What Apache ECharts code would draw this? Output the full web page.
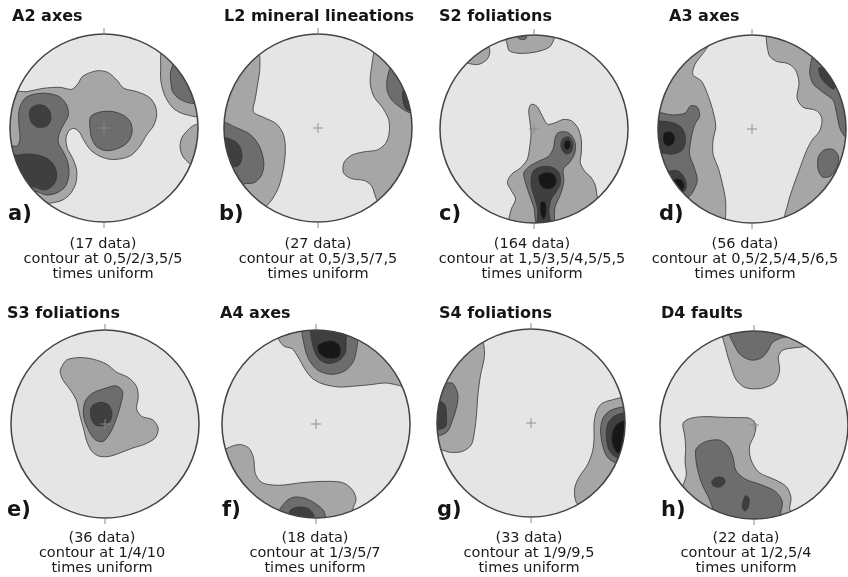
<!DOCTYPE html>
<html><head><meta charset="utf-8">
<script src="https://cdn.jsdelivr.net/npm/echarts@6/dist/echarts.min.js"></script>
<style>html,body{margin:0;padding:0;background:#fff}#c{width:848px;height:577px}</style>
</head><body><div id="c"></div>
<script>
// ---------- text data ----------
const TITLES = ['A2 axes','L2 mineral lineations','S2 foliations','A3 axes','S3 foliations','A4 axes','S4 foliations','D4 faults'];
const LETTERS = ['a)','b)','c)','d)','e)','f)','g)','h)'];
const COUNTS = [17,27,164,56,36,18,33,22];
const CONTOUR_LEVELS = ['0,5/2/3,5/5','0,5/3,5/7,5','1,5/3,5/4,5/5,5','0,5/2,5/4,5/6,5','1/4/10','1/3/5/7','1/9/9,5','1/2,5/4'];

// ---------- contour polygons (projection coords, unit circle, y up) ----------
// a) A2 axes
const a_L1_left = [[-0.97,0.38],[-0.823,0.387],[-0.645,0.422],[-0.468,0.433],[-0.344,0.411],[-0.273,0.475],[-0.238,0.539],[-0.167,0.582],[-0.060,0.610],[0.046,0.589],[0.135,0.511],[0.213,0.422],[0.348,0.387],[0.482,0.326],[0.546,0.234],[0.560,0.128],[0.525,0.021],[0.454,-0.074],[0.383,-0.191],[0.294,-0.287],[0.188,-0.326],[0.064,-0.333],[-0.050,-0.298],[-0.149,-0.227],[-0.220,-0.121],[-0.262,-0.043],[-0.319,-0.004],[-0.372,-0.028],[-0.404,-0.110],[-0.390,-0.216],[-0.333,-0.323],[-0.291,-0.447],[-0.298,-0.582],[-0.355,-0.695],[-0.440,-0.766],[-0.539,-0.794],[-0.66,-0.80],[-0.78,-0.70],[-0.93,-0.45],[-1.05,-0.1],[-1.04,0.2]];
const a_L1_tr = [[0.62,0.83],[0.603,0.635],[0.606,0.493],[0.649,0.340],[0.738,0.209],[0.862,0.145],[1.06,0.13],[1.06,0.4],[0.92,0.6],[0.78,0.75]];
const a_L1_r = [[1.07,0.05],[0.96,0.03],[0.901,-0.014],[0.830,-0.099],[0.809,-0.199],[0.837,-0.298],[0.908,-0.376],[0.97,-0.41],[1.07,-0.15]];
const a_L2_left = [[-0.894,0.227],[-0.840,0.316],[-0.752,0.358],[-0.610,0.369],[-0.475,0.333],[-0.397,0.245],[-0.379,0.138],[-0.426,0.043],[-0.475,-0.057],[-0.486,-0.156],[-0.440,-0.241],[-0.390,-0.348],[-0.372,-0.482],[-0.408,-0.617],[-0.496,-0.688],[-0.610,-0.713],[-0.723,-0.674],[-0.80,-0.66],[-0.90,-0.56],[-1.04,-0.25],[-1.0,-0.19],[-0.922,-0.191],[-0.894,-0.110],[-0.904,0.014],[-0.908,0.138]];
const a_L2_c = [[-0.142,0.121],[-0.043,0.170],[0.099,0.174],[0.213,0.131],[0.284,0.057],[0.298,-0.050],[0.248,-0.156],[0.142,-0.220],[0.021,-0.241],[-0.078,-0.199],[-0.131,-0.110],[-0.149,-0.004]];
const a_L2_tr = [[0.75,0.70],[0.709,0.60],[0.709,0.511],[0.730,0.387],[0.809,0.305],[0.933,0.262],[1.03,0.28],[0.95,0.5],[0.8,0.72]];
const a_L3_ul = [[-0.794,0.138],[-0.777,0.209],[-0.709,0.245],[-0.628,0.234],[-0.574,0.174],[-0.567,0.085],[-0.610,0.021],[-0.699,0.007],[-0.766,0.050]];
const a_L3_ll = [[-1.04,-0.27],[-0.93,-0.29],[-0.840,-0.277],[-0.709,-0.287],[-0.592,-0.333],[-0.521,-0.418],[-0.504,-0.518],[-0.539,-0.606],[-0.628,-0.660],[-0.734,-0.631],[-0.82,-0.6],[-0.9,-0.55],[-1.03,-0.35]];

// b) L2 mineral lineations
const b_L1_left = [[-0.64,0.82],[-0.618,0.642],[-0.642,0.469],[-0.667,0.313],[-0.688,0.174],[-0.583,0.115],[-0.444,0.045],[-0.368,-0.069],[-0.347,-0.226],[-0.368,-0.434],[-0.417,-0.625],[-0.486,-0.757],[-0.549,-0.833],[-0.58,-0.88],[-0.85,-0.6],[-1.04,-0.2],[-1.04,0.25],[-0.85,0.6]];
const b_L2_left = [[-1.04,0.06],[-0.861,0.0],[-0.722,-0.069],[-0.625,-0.191],[-0.576,-0.365],[-0.601,-0.503],[-0.681,-0.583],[-0.785,-0.594],[-0.84,-0.64],[-1.02,-0.3]];
const b_L3_left = [[-1.04,-0.1],[-0.889,-0.139],[-0.826,-0.208],[-0.809,-0.313],[-0.844,-0.399],[-0.931,-0.417],[-1.0,-0.45],[-1.05,-0.25]];
const b_L1_right = [[0.62,0.83],[0.569,0.642],[0.556,0.469],[0.597,0.330],[0.684,0.219],[0.753,0.087],[0.757,-0.052],[0.719,-0.163],[0.632,-0.233],[0.493,-0.253],[0.361,-0.288],[0.278,-0.365],[0.271,-0.476],[0.354,-0.538],[0.493,-0.559],[0.569,-0.615],[0.618,-0.747],[0.66,-0.81],[0.8,-0.68],[1.05,-0.25],[1.05,0.25],[0.88,0.6]];
const b_L2_right = [[0.78,0.66],[0.736,0.521],[0.736,0.399],[0.788,0.295],[0.892,0.208],[0.99,0.16],[1.06,0.2],[0.97,0.5],[0.85,0.66]];
const b_L3_right = [[0.95,0.48],[0.9,0.38],[0.905,0.29],[0.94,0.2],[1.06,0.18],[1.04,0.42]];

// c) S2 foliations
const c_L1_top = [[-0.3,1.02],[-0.285,0.9],[-0.26,0.83],[-0.143,0.804],[0.031,0.822],[0.164,0.871],[0.21,0.95],[0.23,1.04],[0,1.08]];
const c_L1_tl = [[-0.74,0.72],[-0.66,0.69],[-0.58,0.69],[-0.5,0.74],[-0.47,0.82],[-0.5,0.91],[-0.63,0.84]];
const c_L1_main = [[-0.28,-1.0],[-0.266,-0.948],[-0.241,-0.850],[-0.196,-0.745],[-0.241,-0.657],[-0.283,-0.570],[-0.241,-0.483],[-0.143,-0.413],[-0.073,-0.325],[-0.045,-0.185],[-0.031,-0.045],[-0.045,0.094],[-0.056,0.199],[-0.031,0.262],[0.031,0.241],[0.084,0.147],[0.143,0.052],[0.224,0.066],[0.311,0.101],[0.399,0.087],[0.469,0.007],[0.503,-0.115],[0.503,-0.255],[0.493,-0.360],[0.538,-0.448],[0.608,-0.517],[0.654,-0.605],[0.678,-0.738],[0.72,-0.78],[0.4,-0.98],[0.05,-1.06]];
const c_L2_top = [[-0.17,0.97],[-0.12,0.95],[-0.08,0.97],[-0.1,1.03],[-0.17,1.03]];
const c_L2_main = [[0.259,-0.038],[0.364,-0.038],[0.434,-0.133],[0.434,-0.255],[0.381,-0.353],[0.311,-0.430],[0.318,-0.552],[0.283,-0.692],[0.224,-0.832],[0.2,-1.03],[0.05,-1.05],[0.014,-0.97],[0.003,-0.850],[-0.045,-0.710],[-0.091,-0.570],[-0.108,-0.465],[-0.045,-0.395],[0.049,-0.343],[0.154,-0.290],[0.206,-0.203],[0.224,-0.098]];
const c_L3_up = [[0.311,-0.098],[0.374,-0.087],[0.413,-0.157],[0.399,-0.238],[0.346,-0.266],[0.297,-0.220],[0.287,-0.150]];
const c_L3_low = [[-0.01,-0.45],[0.09,-0.40],[0.2,-0.41],[0.27,-0.47],[0.28,-0.58],[0.23,-0.68],[0.18,-0.75],[0.16,-0.87],[0.17,-1.05],[0.04,-1.05],[0.04,-0.87],[0.01,-0.74],[-0.03,-0.6]];
const c_L4_up = [[0.329,-0.133],[0.374,-0.126],[0.388,-0.185],[0.353,-0.220],[0.322,-0.196]];
const c_L4_low = [[0.05,-0.5],[0.13,-0.46],[0.21,-0.48],[0.24,-0.55],[0.21,-0.62],[0.13,-0.64],[0.07,-0.6]];
const c_L4_tail = [[0.07,-0.78],[0.12,-0.78],[0.13,-0.9],[0.1,-0.96],[0.07,-0.9]];

// d) A3 axes
const d_L1_left = [[-0.4,0.98],[-0.511,0.818],[-0.607,0.686],[-0.629,0.579],[-0.536,0.507],[-0.464,0.346],[-0.414,0.186],[-0.386,0.025],[-0.414,-0.118],[-0.414,-0.268],[-0.357,-0.421],[-0.307,-0.618],[-0.279,-0.796],[-0.31,-1.0],[-0.65,-0.82],[-0.95,-0.4],[-1.05,0.05],[-0.92,0.5],[-0.68,0.8]];
const d_L1_right = [[0.17,1.04],[0.179,0.793],[0.257,0.721],[0.382,0.696],[0.464,0.625],[0.5,0.489],[0.479,0.329],[0.543,0.232],[0.686,0.196],[0.743,0.114],[0.721,-0.018],[0.639,-0.118],[0.579,-0.232],[0.514,-0.404],[0.443,-0.6],[0.386,-0.779],[0.35,-1.0],[0.75,-0.75],[1.0,-0.35],[1.06,0.0],[0.98,0.45],[0.72,0.78],[0.45,0.96]];
const d_L2_left = [[-1.04,0.17],[-0.850,0.150],[-0.714,0.168],[-0.654,0.246],[-0.582,0.232],[-0.557,0.139],[-0.611,0.043],[-0.650,-0.118],[-0.664,-0.268],[-0.614,-0.411],[-0.582,-0.546],[-0.629,-0.671],[-0.679,-0.732],[-0.71,-0.77],[-0.95,-0.4],[-1.05,-0.05]];
const d_L2_rtop = [[0.67,0.8],[0.614,0.614],[0.65,0.482],[0.757,0.389],[0.864,0.304],[0.9,0.168],[0.943,-0.011],[1.04,-0.12],[1.06,0.2],[0.93,0.56]];
const d_L2_rmid = [[0.704,-0.304],[0.764,-0.225],[0.864,-0.218],[0.921,-0.296],[0.9,-0.411],[0.836,-0.5],[0.75,-0.511],[0.704,-0.432]];
const d_L3_lup = [[-1.04,0.07],[-0.850,0.068],[-0.743,0.007],[-0.707,-0.118],[-0.743,-0.225],[-0.850,-0.268],[-0.957,-0.254],[-1.02,-0.27],[-1.06,-0.1]];
const d_L3_llow = [[-0.93,-0.46],[-0.786,-0.446],[-0.707,-0.546],[-0.707,-0.646],[-0.771,-0.696],[-0.82,-0.72],[-0.96,-0.5]];
const d_L3_rtop = [[0.714,0.65],[0.811,0.614],[0.882,0.507],[0.871,0.425],[0.8,0.471],[0.729,0.554]];
const d_L4_lup = [[-0.936,-0.046],[-0.864,-0.029],[-0.821,-0.082],[-0.836,-0.154],[-0.9,-0.182],[-0.943,-0.136]];
const d_L4_llow = [[-0.8,-0.53],[-0.74,-0.55],[-0.72,-0.62],[-0.76,-0.67],[-0.82,-0.64],[-0.86,-0.56]];

// e) S3 foliations
const e_L1 = [[-0.459,0.611],[-0.406,0.682],[-0.265,0.707],[-0.124,0.689],[0.018,0.636],[0.124,0.551],[0.247,0.495],[0.336,0.399],[0.353,0.276],[0.336,0.163],[0.389,0.081],[0.505,0.046],[0.565,-0.042],[0.534,-0.148],[0.413,-0.219],[0.300,-0.254],[0.187,-0.297],[0.053,-0.343],[-0.060,-0.343],[-0.141,-0.290],[-0.194,-0.184],[-0.230,-0.042],[-0.265,0.081],[-0.307,0.258],[-0.378,0.375],[-0.449,0.470],[-0.477,0.558]];
const e_L2 = [[-0.212,0.240],[-0.131,0.329],[0.011,0.382],[0.117,0.406],[0.187,0.346],[0.166,0.205],[0.117,0.046],[0.060,-0.085],[-0.018,-0.184],[-0.106,-0.166],[-0.187,-0.042],[-0.230,0.099]];
const e_L3 = [[-0.141,0.187],[-0.053,0.230],[0.035,0.205],[0.074,0.117],[0.053,0.028],[-0.018,-0.018],[-0.106,-0.007],[-0.152,0.081]];

// f) A4 axes
const f_L1_top = [[-0.41,0.95],[-0.344,0.830],[-0.255,0.801],[-0.191,0.713],[-0.121,0.589],[-0.043,0.489],[0.064,0.429],[0.241,0.394],[0.418,0.404],[0.578,0.418],[0.738,0.436],[0.879,0.411],[0.98,0.38],[0.85,0.6],[0.6,0.85],[0.2,1.03],[-0.2,1.03]];
const f_L1_bot = [[-1.0,-0.31],[-0.887,-0.234],[-0.794,-0.220],[-0.709,-0.262],[-0.663,-0.369],[-0.645,-0.528],[-0.574,-0.624],[-0.397,-0.652],[-0.149,-0.624],[0.099,-0.610],[0.284,-0.624],[0.383,-0.695],[0.426,-0.801],[0.390,-0.915],[0.41,-0.96],[0.0,-1.05],[-0.45,-0.95],[-0.8,-0.66]];
const f_L2_top = [[-0.135,1.04],[-0.121,0.819],[-0.071,0.677],[0.021,0.571],[0.163,0.528],[0.305,0.564],[0.390,0.652],[0.426,0.766],[0.43,0.95],[0.15,1.05]];
const f_L2_bot = [[-0.4,-0.96],[-0.319,-0.823],[-0.227,-0.777],[-0.106,-0.794],[0.0,-0.851],[0.085,-0.929],[0.09,-1.04],[-0.2,-1.04]];
const f_L3_top = [[-0.05,1.04],[-0.025,0.801],[0.035,0.688],[0.135,0.642],[0.248,0.677],[0.312,0.759],[0.319,0.872],[0.31,1.0],[0.1,1.05]];
const f_L3_bot = [[-0.28,-1.0],[-0.273,-0.918],[-0.184,-0.883],[-0.078,-0.901],[-0.025,-0.972],[-0.03,-1.04]];
const f_L4_top = [[0.021,0.837],[0.082,0.872],[0.188,0.883],[0.259,0.819],[0.248,0.72],[0.170,0.695],[0.082,0.713],[0.028,0.766]];

// g) S4 foliations
const g_L1_left = [[-0.53,0.89],[-0.495,0.721],[-0.537,0.509],[-0.565,0.297],[-0.580,0.085],[-0.601,-0.092],[-0.636,-0.233],[-0.735,-0.304],[-0.866,-0.311],[-0.954,-0.286],[-1.02,-0.3],[-1.06,0.1],[-0.95,0.5],[-0.75,0.75]];
const g_L1_right = [[1.03,0.26],[0.830,0.237],[0.742,0.198],[0.693,0.113],[0.671,-0.004],[0.671,-0.163],[0.654,-0.304],[0.601,-0.445],[0.516,-0.569],[0.466,-0.686],[0.477,-0.834],[0.55,-0.9],[0.78,-0.72],[0.95,-0.42],[1.06,-0.1]];
const g_L2_left = [[-0.95,0.45],[-0.901,0.428],[-0.830,0.420],[-0.777,0.297],[-0.795,0.155],[-0.841,0.014],[-0.890,-0.092],[-0.972,-0.134],[-1.04,-0.14],[-1.06,0.15]];
const g_L2_right = [[1.04,0.16],[0.86,0.14],[0.77,0.06],[0.74,-0.07],[0.76,-0.23],[0.81,-0.36],[0.89,-0.42],[0.97,-0.43],[1.06,-0.15]];
const g_L3_left = [[-1.03,0.25],[-0.92,0.2],[-0.9,0.08],[-0.91,-0.04],[-1.03,-0.06]];
const g_L3_right = [[1.04,0.1],[0.9,0.08],[0.82,0.0],[0.8,-0.12],[0.82,-0.26],[0.87,-0.34],[0.95,-0.37],[1.03,-0.3]];
const g_L4_right = [[1.04,0.03],[0.93,0.0],[0.87,-0.08],[0.86,-0.2],[0.9,-0.3],[0.96,-0.33],[1.04,-0.2]];

// h) D4 faults
const h_L1_top = [[-0.33,1.0],[-0.301,0.816],[-0.248,0.631],[-0.188,0.479],[-0.089,0.397],[0.082,0.390],[0.223,0.454],[0.273,0.585],[0.259,0.727],[0.309,0.798],[0.443,0.823],[0.550,0.837],[0.58,0.87],[0.2,1.04],[-0.1,1.05]];
const h_L1_bot = [[-0.755,0.018],[-0.674,0.071],[-0.532,0.089],[-0.337,0.082],[-0.160,0.078],[-0.046,0.071],[0.018,0.007],[0.004,-0.106],[-0.046,-0.220],[-0.035,-0.362],[0.053,-0.504],[0.223,-0.582],[0.344,-0.656],[0.394,-0.773],[0.379,-0.887],[0.4,-0.95],[0.0,-1.05],[-0.4,-0.95],[-0.62,-0.85],[-0.76,-0.7],[-0.720,-0.532],[-0.734,-0.390],[-0.727,-0.248],[-0.738,-0.106]];
const h_L2_top = [[-0.26,1.0],[-0.202,0.833],[-0.142,0.745],[-0.035,0.691],[0.071,0.709],[0.142,0.78],[0.195,0.876],[0.3,0.93],[0.4,0.94],[0.0,1.06]];
const h_L2_bot = [[-0.613,-0.248],[-0.514,-0.177],[-0.372,-0.160],[-0.273,-0.230],[-0.220,-0.355],[-0.195,-0.479],[-0.096,-0.574],[0.082,-0.638],[0.230,-0.709],[0.301,-0.816],[0.284,-0.940],[0.29,-1.0],[0.0,-1.05],[-0.2,-1.03],[-0.4,-0.95],[-0.479,-0.780],[-0.557,-0.621],[-0.603,-0.461],[-0.621,-0.337]];
const h_L3_s1 = [[-0.450,-0.603],[-0.408,-0.560],[-0.330,-0.560],[-0.309,-0.610],[-0.355,-0.656],[-0.426,-0.652]];
const h_L3_s2 = [[-0.117,-0.816],[-0.089,-0.752],[-0.053,-0.780],[-0.060,-0.869],[-0.096,-0.915],[-0.124,-0.879]];

// [contour level, polygon] per panel, drawn in order
const PANELS = [
  [[1,a_L1_left],[1,a_L1_tr],[1,a_L1_r],[2,a_L2_left],[2,a_L2_c],[2,a_L2_tr],[3,a_L3_ul],[3,a_L3_ll]],
  [[1,b_L1_left],[1,b_L1_right],[2,b_L2_left],[2,b_L2_right],[3,b_L3_left],[3,b_L3_right]],
  [[1,c_L1_top],[1,c_L1_tl],[1,c_L1_main],[2,c_L2_top],[2,c_L2_main],[3,c_L3_up],[3,c_L3_low],[4,c_L4_up],[4,c_L4_low],[4,c_L4_tail]],
  [[1,d_L1_left],[1,d_L1_right],[2,d_L2_left],[2,d_L2_rtop],[2,d_L2_rmid],[3,d_L3_lup],[3,d_L3_llow],[3,d_L3_rtop],[4,d_L4_lup],[4,d_L4_llow]],
  [[1,e_L1],[2,e_L2],[3,e_L3]],
  [[1,f_L1_top],[1,f_L1_bot],[2,f_L2_top],[2,f_L2_bot],[3,f_L3_top],[3,f_L3_bot],[4,f_L4_top]],
  [[1,g_L1_left],[1,g_L1_right],[2,g_L2_left],[2,g_L2_right],[3,g_L3_left],[3,g_L3_right],[4,g_L4_right]],
  [[1,h_L1_top],[1,h_L1_bot],[2,h_L2_top],[2,h_L2_bot],[3,h_L3_s1],[3,h_L3_s2]]
];

// ---------- layout & style ----------
const LEVEL_FILL = ['#e5e5e5','#a6a6a6','#6d6d6d','#3f3f3f','#171717'];
const CX = [104,318,534,752,105,316,531,754];
const CY = [128,128,129,129,424,424,423,425];
const R = 94;
const TITLE_X = [12,224,439,669,7,220,439,661];
const TITLE_Y = [17,17,17,17,314,314,314,314];
const LETTER_X = [8,219,439,659,7,222,437,661];
const LETTER_Y = [225,225,225,225,521,521,521,521];
const CAP_X = [103,318,532,745,102,315,529,746];
const CAP_Y = [[244,259,274],[538,553,568]];
const FONT = '"DejaVu Sans", sans-serif';

const chart = echarts.init(document.getElementById('c'), null, {renderer:'canvas'});
const grids = [], xAxes = [], yAxes = [], series = [], graphics = [];

PANELS.forEach((polys, i) => {
  grids.push({left: CX[i]-R, top: CY[i]-R, width: 2*R, height: 2*R, containLabel:false});
  xAxes.push({type:'value', gridIndex:i, min:-1, max:1, show:false});
  yAxes.push({type:'value', gridIndex:i, min:-1, max:1, show:false});
  // net background
  series.push({type:'custom', xAxisIndex:i, yAxisIndex:i, z:1, silent:true, clip:false, animation:false,
    data:[[0,0]],
    renderItem:(p, api) => {
      const c = api.coord([0,0]); const r = api.size([1,1])[0];
      return {type:'circle', shape:{cx:c[0], cy:c[1], r:r}, style:{fill:LEVEL_FILL[0]}};
    }});
  // contour areas
  series.push({type:'custom', xAxisIndex:i, yAxisIndex:i, z:2, silent:true, clip:false, animation:false,
    data: polys.map(p => [p[1][0][0], p[1][0][1], p[0]]),
    renderItem:(p, api) => {
      const poly = polys[p.dataIndex];
      const pts = poly[1].map(q => api.coord(q));
      return {type:'polygon', shape:{points:pts, smooth:0.3},
        style:{fill:LEVEL_FILL[poly[0]], stroke:'#353535', lineWidth:0.8}};
    }});
  // outline, mask, ticks, centre cross
  series.push({type:'custom', xAxisIndex:i, yAxisIndex:i, z:3, silent:true, clip:false, animation:false,
    data:[[0,0]],
    renderItem:(p, api) => {
      const c = api.coord([0,0]); const r = api.size([1,1])[0];
      const ln = (x1,y1,x2,y2,col,w) => ({type:'line', shape:{x1,y1,x2,y2}, style:{stroke:col, lineWidth:w}});
      return {type:'group', children:[
        {type:'ring', shape:{cx:c[0], cy:c[1], r:r+18, r0:r+0.2}, style:{fill:'#ffffff'}},
        {type:'circle', shape:{cx:c[0], cy:c[1], r:r}, style:{fill:'transparent', stroke:'#444444', lineWidth:1.5}},
        ln(c[0], c[1]-r-6, c[0], c[1]-r, '#888', 1),
        ln(c[0], c[1]+r, c[0], c[1]+r+6, '#888', 1),
        ln(c[0]-5, c[1], c[0]+5, c[1], '#8a8a8a', 0.9),
        ln(c[0], c[1]-5, c[0], c[1]+5, '#8a8a8a', 0.9)
      ]};
    }});
  const row = i < 4 ? 0 : 1;
  graphics.push({type:'text', z:100, style:{text:TITLES[i], x:TITLE_X[i], y:TITLE_Y[i], font:'bold 16px '+FONT, fill:'#151515', textAlign:'left', textVerticalAlign:'middle', align:'left', verticalAlign:'middle'}});
  graphics.push({type:'text', z:100, style:{text:LETTERS[i], x:LETTER_X[i], y:LETTER_Y[i], font:'bold 21px '+FONT, fill:'#151515', textAlign:'left', textVerticalAlign:'bottom', align:'left', verticalAlign:'bottom'}});
  const lines = ['(' + COUNTS[i] + ' data)', 'contour at ' + CONTOUR_LEVELS[i], 'times uniform'];
  lines.forEach((t, k) => {
    graphics.push({type:'text', z:100, style:{text:t, x:CAP_X[i], y:CAP_Y[row][k], font:'14.5px '+FONT, fill:'#1a1a1a', textAlign:'center', textVerticalAlign:'middle', align:'center', verticalAlign:'middle'}});
  });
});

chart.setOption({
  backgroundColor:'#ffffff',
  animation:false,
  grid:grids, xAxis:xAxes, yAxis:yAxes, series:series,
  graphic:{elements:graphics}
});
</script></body></html>
